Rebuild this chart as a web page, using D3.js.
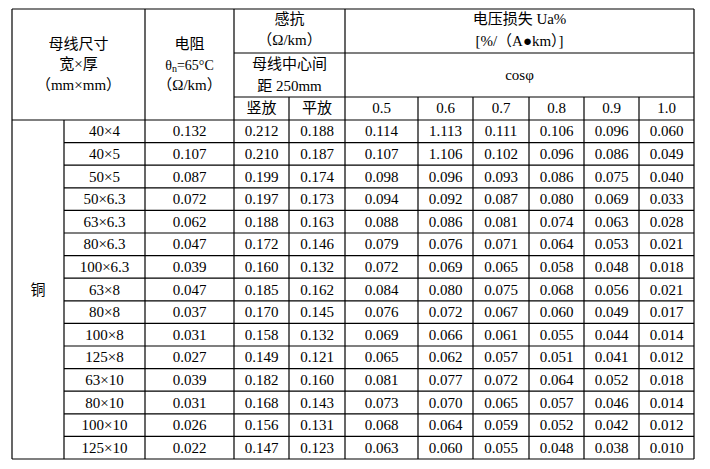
<!DOCTYPE html>
<html><head><meta charset="utf-8">
<script src="https://cdn.jsdelivr.net/npm/d3@7"></script>
<style>body{margin:0;background:#fff}</style></head>
<body><svg id="c" width="710" height="469"></svg>
<script>
const sizes=["40×4","40×5","50×5","50×6.3","63×6.3","80×6.3","100×6.3","63×8","80×8","100×8","125×8","63×10","80×10","100×10","125×10"];
const resistance=[0.132,0.107,0.087,0.072,0.062,0.047,0.039,0.047,0.037,0.031,0.027,0.039,0.031,0.026,0.022];
const reactVertical=[0.212,0.210,0.199,0.197,0.188,0.172,0.160,0.185,0.170,0.158,0.149,0.182,0.168,0.156,0.147];
const reactFlat=[0.188,0.187,0.174,0.173,0.163,0.146,0.132,0.162,0.145,0.132,0.121,0.160,0.143,0.131,0.123];
const cosLabels=["0.5","0.6","0.7","0.8","0.9","1.0"];
const voltLoss=[
[0.114,1.113,0.111,0.106,0.096,0.060],
[0.107,1.106,0.102,0.096,0.086,0.049],
[0.098,0.096,0.093,0.086,0.075,0.040],
[0.094,0.092,0.087,0.080,0.069,0.033],
[0.088,0.086,0.081,0.074,0.063,0.028],
[0.079,0.076,0.071,0.064,0.053,0.021],
[0.072,0.069,0.065,0.058,0.048,0.018],
[0.084,0.080,0.075,0.068,0.056,0.021],
[0.076,0.072,0.067,0.060,0.049,0.017],
[0.069,0.066,0.061,0.055,0.044,0.014],
[0.065,0.062,0.057,0.051,0.041,0.012],
[0.081,0.077,0.072,0.064,0.052,0.018],
[0.073,0.070,0.065,0.057,0.046,0.014],
[0.068,0.064,0.059,0.052,0.042,0.012],
[0.063,0.060,0.055,0.048,0.038,0.010]];

(function(){
const svg=d3.select("#c");
const colX=[12,64,145,234,289,345,418,473,529,584,639,694];
const yTop=9,h1=53,h2=97,hb=120,bot=459;
const y=d3.scaleBand().domain(d3.range(sizes.length)).range([hb,bot]);
const F="'Liberation Serif','Noto Sans CJK SC',serif";
const g=svg.append("g").attr("font-family",F).attr("font-size",15).attr("fill","#000");
function line(x1,y1,x2,y2){svg.append("line").attr("x1",x1).attr("y1",y1).attr("x2",x2).attr("y2",y2).attr("stroke","#000").attr("stroke-width",1.2);}
function txt(x,yy,s,fs){return g.append("text").attr("x",x).attr("y",yy).attr("text-anchor","middle").attr("dominant-baseline","central").attr("font-size",fs||15).text(s);}
line(colX[0],yTop,colX[11],yTop);line(colX[0],bot,colX[11],bot);
line(colX[0],yTop,colX[0],bot);line(colX[11],yTop,colX[11],bot);
line(colX[2],yTop,colX[2],bot);line(colX[3],yTop,colX[3],bot);line(colX[5],yTop,colX[5],bot);
line(colX[1],hb,colX[1],bot);
line(colX[4],h2,colX[4],bot);
for(let i=6;i<11;i++)line(colX[i],h2,colX[i],bot);
line(colX[3],h1,colX[11],h1);line(colX[3],h2,colX[11],h2);
line(colX[0],hb,colX[11],hb);
d3.range(1,sizes.length).forEach(i=>line(colX[1],y(i),colX[11],y(i)));
const cx=(a,b)=>(colX[a]+colX[b])/2;
txt(cx(0,2),44,"母线尺寸");txt(cx(0,2),64,"宽×厚");txt(cx(0,2),85,"（mm×mm）");
txt(cx(2,3),44,"电阻");
const t=txt(cx(2,3),65,"θ",14);t.append("tspan").attr("font-size",10).attr("dy",3).text("n");t.append("tspan").attr("dy",-3).text("=65°C");
txt(cx(2,3),85,"（Ω/km）");
txt(cx(3,5),19,"感抗");txt(cx(3,5),40,"（Ω/km）");
txt(cx(3,5),64,"母线中心间");txt(cx(3,5),86,"距 250mm");
txt(cx(3,4),108,"竖放");txt(cx(4,5),108,"平放");
txt(cx(5,11),19,"电压损失 Ua%");txt(cx(5,11),41,"[%/（A●km）]");
txt(cx(5,11),75,"cosφ");
cosLabels.forEach((c,i)=>txt(cx(5+i,6+i),108,c));
txt(cx(0,1),(hb+bot)/2,"铜");
sizes.forEach((s,i)=>{
 const yy=y(i)+y.bandwidth()/2;
 txt(cx(1,2),yy,s);
 txt(cx(2,3),yy,resistance[i].toFixed(3));
 txt(cx(3,4),yy,reactVertical[i].toFixed(3));
 txt(cx(4,5),yy,reactFlat[i].toFixed(3));
 voltLoss[i].forEach((v,j)=>txt(cx(5+j,6+j),yy,v.toFixed(3)));
});
})();
</script></body></html>
